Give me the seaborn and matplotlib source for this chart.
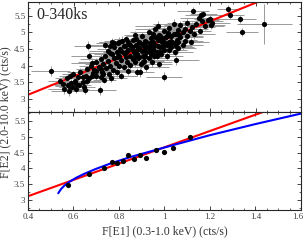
import numpy as np
import pandas as pd
import matplotlib
matplotlib.use("Agg")
import matplotlib.pyplot as plt
from matplotlib.ticker import MultipleLocator
from matplotlib.transforms import ScaledTranslation
import seaborn as sns

# top panel: individual time bins (F[E1], F[E2]) with errors
flux_e1 = [
    0.50, 0.54, 0.555, 0.56, 0.57, 0.575, 0.58, 0.585, 0.59, 0.595,
    0.60, 0.605, 0.61, 0.62, 0.625, 0.63, 0.64, 0.645, 0.65, 0.655,
    0.66, 0.662, 0.67, 0.67, 0.675, 0.68, 0.685, 0.69, 0.70, 0.70,
    0.71, 0.716, 0.72, 0.72, 0.725, 0.73, 0.735, 0.74, 0.745, 0.75,
    0.75, 0.755, 0.76, 0.76, 0.765, 0.77, 0.77, 0.775, 0.78, 0.78,
    0.785, 0.79, 0.79, 0.795, 0.80, 0.80, 0.805, 0.81, 0.81, 0.815,
    0.82, 0.82, 0.825, 0.83, 0.83, 0.835, 0.84, 0.84, 0.845, 0.85,
    0.85, 0.855, 0.86, 0.86, 0.865, 0.87, 0.87, 0.875, 0.88, 0.88,
    0.885, 0.89, 0.89, 0.892, 0.895, 0.90, 0.90, 0.905, 0.91, 0.91,
    0.915, 0.92, 0.92, 0.925, 0.93, 0.93, 0.935, 0.94, 0.94, 0.945,
    0.95, 0.95, 0.955, 0.96, 0.96, 0.965, 0.97, 0.97, 0.975, 0.98,
    0.98, 0.985, 0.99, 0.999, 1.0, 1.0, 1.005, 1.01, 1.01, 1.015,
    1.02, 1.02, 1.03, 1.03, 1.04, 1.04, 1.045, 1.05, 1.05, 1.055,
    1.06, 1.06, 1.07, 1.07, 1.08, 1.08, 1.09, 1.09, 1.10, 1.10,
    1.11, 1.115, 1.12, 1.127, 1.13, 1.14, 1.15, 1.155, 1.16, 1.165,
    1.17, 1.18, 1.19, 1.20, 1.205, 1.21, 1.28, 1.29, 1.332, 1.342,
    1.439,
    0.74, 0.76, 0.78, 0.79, 0.80, 0.81, 0.82, 0.83, 0.84, 0.85,
    0.86, 0.87, 0.875, 0.88, 0.885, 0.89, 0.90, 0.905, 0.91, 0.915,
    0.92, 0.93, 0.935, 0.94, 0.95, 0.955, 0.96, 0.965, 0.97, 0.975,
    0.98, 0.99, 0.995, 1.0, 1.01, 1.02, 1.025, 1.03, 1.04, 1.05,
    1.06, 1.065, 0.72, 0.73, 0.70, 0.68, 0.64, 0.66, 0.61, 0.58,
]
flux_e2 = [
    3.83, 3.54, 3.45, 3.28, 3.62, 3.40, 3.24, 3.70, 3.48, 3.35,
    3.75, 3.55, 3.30, 3.65, 3.42, 3.80, 3.50, 3.35, 3.27, 3.70,
    3.90, 4.60, 4.28, 3.62, 3.98, 4.08, 3.78, 3.88, 4.10, 3.68,
    3.95, 3.25, 4.20, 3.65, 3.82, 4.05, 3.58, 4.30, 3.92, 4.45,
    4.15, 3.75, 4.60, 4.00, 3.62, 4.35, 4.72, 3.88, 4.22, 4.55,
    4.08, 4.42, 3.80, 4.68, 4.30, 4.00, 4.50, 4.18, 3.70, 4.75,
    4.38, 3.95, 4.60, 4.25, 4.80, 4.10, 4.48, 3.85, 4.65, 4.30,
    4.02, 4.55, 4.20, 4.78, 4.40, 4.93, 4.12, 4.62, 4.35, 3.82,
    4.50, 4.25, 4.70, 3.80, 4.05, 4.45, 4.88, 4.30, 4.60, 4.15,
    4.75, 4.40, 3.95, 4.55, 4.22, 5.00, 4.68, 4.35, 4.82, 4.10,
    4.50, 4.95, 4.28, 4.62, 5.12, 4.42, 4.78, 5.20, 4.05, 4.55,
    4.90, 4.35, 4.70, 3.67, 4.48, 5.05, 4.85, 4.62, 4.30, 4.98,
    4.72, 5.15, 4.55, 4.88, 5.27, 4.68, 4.42, 4.16, 4.95, 4.78,
    5.08, 4.52, 4.85, 5.22, 4.62, 5.00, 4.75, 5.12, 4.90, 5.30,
    5.05, 4.70, 5.18, 5.65, 4.95, 5.25, 5.45, 5.05, 5.52, 5.35,
    5.55, 5.20, 5.38, 5.42, 5.22, 5.28, 5.70, 5.53, 5.41, 5.02,
    5.26,
    4.62, 4.38, 4.68, 4.25, 4.72, 4.45, 4.58, 4.40, 4.70, 4.62,
    4.48, 4.28, 4.80, 4.58, 4.22, 4.52, 4.65, 4.10, 4.48, 4.30,
    4.72, 4.52, 4.40, 4.62, 4.72, 4.45, 4.85, 4.30, 4.60, 4.92,
    4.40, 4.82, 4.58, 4.72, 4.90, 4.48, 4.62, 4.75, 4.95, 4.58,
    4.70, 4.92, 3.90, 3.75, 3.85, 3.70, 3.65, 3.55, 3.45, 3.38,
]
err_e1 = [
    0.085, 0.05, 0.06, 0.07, 0.05, 0.06, 0.08, 0.05, 0.07, 0.06,
    0.05, 0.08, 0.06, 0.07, 0.05, 0.06, 0.08, 0.05, 0.07, 0.06,
    0.05, 0.06, 0.08, 0.07, 0.05, 0.09, 0.06, 0.07, 0.08, 0.05,
    0.06, 0.07, 0.09, 0.06, 0.07, 0.08, 0.05, 0.09, 0.06, 0.08,
    0.07, 0.06, 0.09, 0.05, 0.07, 0.08, 0.06, 0.09, 0.07, 0.05,
    0.08, 0.06, 0.09, 0.07, 0.08, 0.05, 0.10, 0.06, 0.07, 0.08,
    0.09, 0.06, 0.07, 0.10, 0.05, 0.08, 0.09, 0.06, 0.07, 0.10,
    0.08, 0.06, 0.09, 0.07, 0.08, 0.05, 0.10, 0.07, 0.09, 0.06,
    0.08, 0.10, 0.07, 0.06, 0.09, 0.08, 0.07, 0.10, 0.06, 0.09,
    0.08, 0.07, 0.10, 0.06, 0.09, 0.08, 0.07, 0.10, 0.06, 0.09,
    0.08, 0.07, 0.10, 0.06, 0.09, 0.08, 0.07, 0.10, 0.06, 0.09,
    0.08, 0.07, 0.10, 0.08, 0.09, 0.06, 0.08, 0.10, 0.07, 0.09,
    0.06, 0.08, 0.10, 0.07, 0.09, 0.06, 0.08, 0.10, 0.07, 0.09,
    0.06, 0.08, 0.10, 0.07, 0.09, 0.06, 0.08, 0.10, 0.07, 0.09,
    0.06, 0.08, 0.10, 0.07, 0.09, 0.06, 0.08, 0.05, 0.07, 0.09,
    0.06, 0.08, 0.05, 0.07, 0.06, 0.08, 0.05, 0.06, 0.07, 0.07,
    0.12,
    0.07, 0.09, 0.08, 0.07, 0.09, 0.08, 0.07, 0.09, 0.08, 0.07,
    0.09, 0.08, 0.07, 0.09, 0.08, 0.07, 0.09, 0.08, 0.07, 0.09,
    0.08, 0.07, 0.09, 0.08, 0.07, 0.09, 0.08, 0.07, 0.09, 0.08,
    0.07, 0.09, 0.08, 0.07, 0.09, 0.08, 0.07, 0.09, 0.08, 0.07,
    0.09, 0.08, 0.07, 0.06, 0.07, 0.06, 0.05, 0.06, 0.05, 0.06,
]
err_e2 = [
    0.15, 0.10, 0.12, 0.14, 0.10, 0.12, 0.15, 0.10, 0.13, 0.11,
    0.10, 0.14, 0.12, 0.11, 0.10, 0.13, 0.15, 0.10, 0.12, 0.11,
    0.10, 0.14, 0.12, 0.11, 0.10, 0.15, 0.12, 0.11, 0.13, 0.10,
    0.12, 0.14, 0.16, 0.11, 0.12, 0.13, 0.10, 0.15, 0.12, 0.14,
    0.11, 0.12, 0.16, 0.10, 0.12, 0.13, 0.11, 0.15, 0.12, 0.10,
    0.14, 0.12, 0.15, 0.11, 0.13, 0.10, 0.16, 0.12, 0.11, 0.13,
    0.14, 0.12, 0.11, 0.16, 0.10, 0.13, 0.14, 0.12, 0.11, 0.16,
    0.13, 0.12, 0.14, 0.11, 0.13, 0.10, 0.16, 0.12, 0.14, 0.12,
    0.13, 0.15, 0.12, 0.14, 0.14, 0.13, 0.12, 0.15, 0.11, 0.14,
    0.13, 0.12, 0.15, 0.11, 0.14, 0.13, 0.12, 0.15, 0.11, 0.14,
    0.13, 0.12, 0.15, 0.11, 0.14, 0.13, 0.12, 0.15, 0.11, 0.14,
    0.13, 0.12, 0.15, 0.14, 0.14, 0.11, 0.13, 0.15, 0.12, 0.14,
    0.11, 0.13, 0.15, 0.12, 0.14, 0.11, 0.13, 0.15, 0.12, 0.14,
    0.11, 0.13, 0.15, 0.12, 0.14, 0.11, 0.13, 0.15, 0.12, 0.14,
    0.11, 0.13, 0.15, 0.12, 0.14, 0.11, 0.13, 0.10, 0.12, 0.14,
    0.11, 0.13, 0.10, 0.12, 0.11, 0.13, 0.12, 0.11, 0.12, 0.12,
    0.60,
    0.12, 0.14, 0.13, 0.12, 0.14, 0.13, 0.12, 0.14, 0.13, 0.12,
    0.14, 0.13, 0.12, 0.14, 0.13, 0.12, 0.14, 0.13, 0.12, 0.14,
    0.13, 0.12, 0.14, 0.13, 0.12, 0.14, 0.13, 0.12, 0.14, 0.13,
    0.12, 0.14, 0.13, 0.12, 0.14, 0.13, 0.12, 0.14, 0.13, 0.12,
    0.14, 0.13, 0.12, 0.11, 0.12, 0.11, 0.10, 0.11, 0.10, 0.11,
]

# linear fits (red) for both panels
fit_top_x = [0.4, 1.6]
fit_top_y = [3.12, 6.45]
fit_bot_x = [0.4, 1.6]
fit_bot_y = [3.125, 6.21]

# bottom panel: flux-binned averages
bin_e1 = [0.577, 0.668, 0.735, 0.768, 0.791, 0.818, 0.84, 0.867, 0.891,
          0.92, 0.964, 0.999, 1.039, 1.113]
bin_e2 = [3.49, 3.83, 4.01, 4.21, 4.17, 4.24, 4.43, 4.31, 4.41,
          4.33, 4.57, 4.52, 4.66, 5.00]

# blue model curve
model_e1 = [0.533, 0.545, 0.56, 0.58, 0.61, 0.65, 0.70, 0.76, 0.85,
            0.95, 1.05, 1.2, 1.4, 1.6]
model_e2 = [3.22, 3.35, 3.46, 3.57, 3.70, 3.84, 3.99, 4.15, 4.36,
            4.56, 4.76, 5.05, 5.40, 5.73]

sns.set_style("ticks")
plt.rcParams['font.family'] = ['Liberation Serif', 'DejaVu Serif']

fig = plt.figure(figsize=(3.05, 2.41), dpi=100)
ax1 = fig.add_axes([28 / 305, 1 - 112 / 241, 273 / 305, 110 / 241])
ax2 = fig.add_axes([28 / 305, 1 - 210 / 241, 273 / 305, 98 / 241])

df_top = pd.DataFrame({"e1": flux_e1, "e2": flux_e2})
ax1.errorbar(flux_e1, flux_e2, xerr=err_e1, yerr=err_e2, fmt="none",
             ecolor="#999999", elinewidth=0.7, zorder=1)
sns.lineplot(x=fit_top_x, y=fit_top_y, ax=ax1, color="red", lw=1.5, zorder=2)
sns.scatterplot(data=df_top, x="e1", y="e2", ax=ax1, color="black", s=14,
                edgecolor="black", linewidth=0, zorder=3)
ax1.text(0.435, 5.53, "0-340ks", fontsize=11.5, va="center")

sns.lineplot(x=fit_bot_x, y=fit_bot_y, ax=ax2, color="red", lw=1.5, zorder=2)
sns.lineplot(x=model_e1, y=model_e2, ax=ax2, color="blue", lw=1.5, zorder=2,
             sort=False)
sns.scatterplot(x=bin_e1, y=bin_e2, ax=ax2, color="black", s=14,
                edgecolor="black", linewidth=0, zorder=3)

ax1.set_ylim(2.6, 5.92)
ax2.set_ylim(2.69, 5.78)
for ax in (ax1, ax2):
    ax.set_xlim(0.4, 1.6)
    ax.xaxis.set_major_locator(MultipleLocator(0.2))
    ax.xaxis.set_minor_locator(MultipleLocator(0.05))
    ax.yaxis.set_major_locator(MultipleLocator(0.5))
    ax.yaxis.set_minor_locator(MultipleLocator(0.25))
    ax.tick_params(which="both", direction="in", top=True, right=True,
                   labelsize=6.5, labelcolor="#444444", pad=2)
    ax.tick_params(which="major", length=3, width=0.6)
    ax.tick_params(which="minor", length=1.5, width=0.5)
    for s in ax.spines.values():
        s.set_linewidth(0.8)
    ax.set_xlabel("")
    ax.set_ylabel("")

ax1.set_yticks([3, 3.5, 4, 4.5, 5, 5.5], ["3", "3.5", "4", "4.5", "5", "5.5"])
ax2.set_yticks([3, 3.5, 4, 4.5, 5, 5.5], ["3", "3.5", "4", "4.5", "5", "5.5"])
ax1.tick_params(labelbottom=False)
ax2.set_xticks([0.4, 0.6, 0.8, 1.0, 1.2, 1.4, 1.6],
               ["0.4", "0.6", "0.8", "1", "1.2", "1.4", "1.6"])
# nudge the last x tick label so it stays inside the figure
last = ax2.get_xticklabels()[-1]
last.set_transform(last.get_transform() +
                   ScaledTranslation(-3 / 100, 0, fig.dpi_scale_trans))

ax2.set_xlabel("F[E1] (0.3-1.0 keV) (cts/s)", fontsize=8.5, color="#333333",
               labelpad=3)
fig.text(0.016, 1 - 112 / 241, "F[E2] (2.0-10.0 keV) (cts/s)", rotation=90,
         fontsize=8.5, color="#333333", ha="center", va="center")

plt.savefig("out.png", dpi=100)
